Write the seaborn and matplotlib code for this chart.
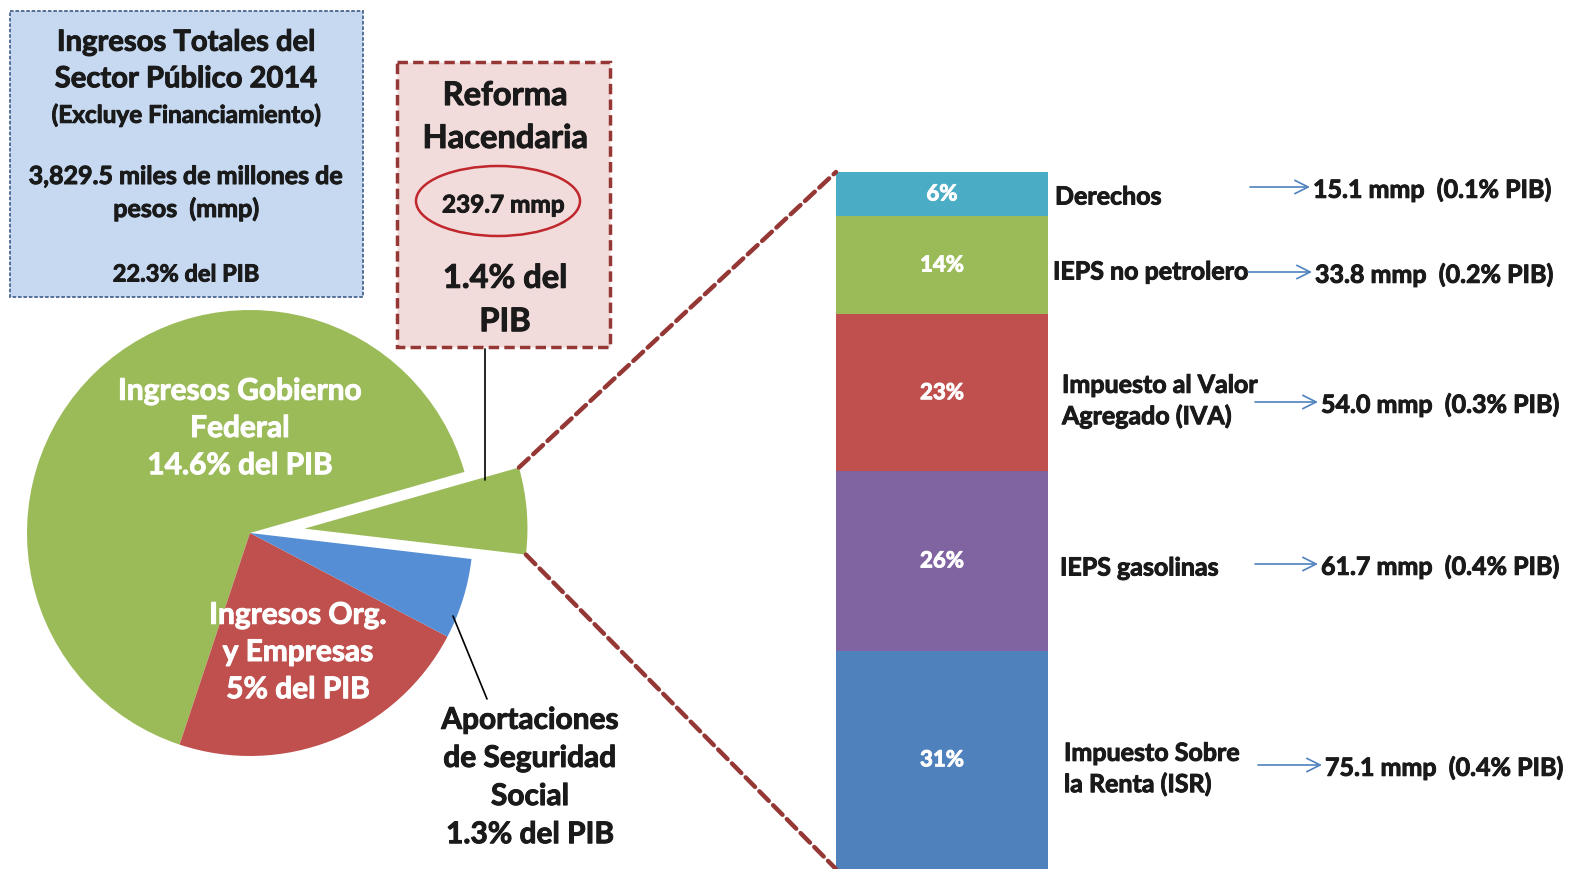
import matplotlib
matplotlib.use("Agg")
import matplotlib.pyplot as plt
import matplotlib.patheffects as pe
from matplotlib.patches import ConnectionPatch, Ellipse, Rectangle
import numpy as np
import seaborn as sns

sns.set_theme(style="white")
plt.rcParams["font.family"] = ["Lato", "DejaVu Sans"]
plt.rcParams["font.weight"] = "bold"

# --- data -------------------------------------------------------------
pie_names = ["Reforma Hacendaria", "Ingresos Gobierno Federal",
             "Ingresos Org. y Empresas", "Aportaciones de Seguridad Social"]
pie_pib = [1.4, 14.6, 5.0, 1.3]
pie_colors = ["#9bbb59", "#9bbb59", "#c0504d", "#558ed5"]

bar_names = ["Impuesto Sobre\nla Renta (ISR)", "IEPS gasolinas",
             "Impuesto al Valor\nAgregado (IVA)", "IEPS no petrolero", "Derechos"]
bar_mmp = [75.1, 61.7, 54.0, 33.8, 15.1]
bar_pib = [0.4, 0.4, 0.3, 0.2, 0.1]
bar_colors = ["#4f81bd", "#8064a2", "#c0504d", "#9bbb59", "#4bacc6"]

W, H = 1571, 870
TXT = "#1a1a1a"
DY = 3  # multi-line text sits a little low in the original
fig = plt.figure(figsize=(W / 100, H / 100), dpi=100)
fig.patch.set_facecolor("white")


def txt(ax, x, y, s, color=TXT, **kw):
    # slight stroke to get the heavy look of the original bold font
    t = ax.text(x, y, s, color=color, **kw)
    t.set_path_effects([pe.withStroke(linewidth=0.7, foreground=color)])
    return t


# overlay in pixel coordinates for boxes and text
ov = fig.add_axes([0, 0, 1, 1], zorder=3)
ov.set_xlim(0, W)
ov.set_ylim(H, 0)
ov.axis("off")
ov.patch.set_alpha(0)

# --- pie ----------------------------------------------------------------
cx, cy, r_px, half = 250, 534, 223, 300
pax = fig.add_axes([(cx - half) / W, (H - cy - half) / H, 2 * half / W, 2 * half / H], zorder=1)
start = -6.7
wedges, _ = pax.pie(pie_pib, colors=pie_colors, startangle=start, counterclock=True,
                    explode=[0.245, 0, 0, 0], wedgeprops=dict(linewidth=0))
lim = half / r_px
pax.set_xlim(-lim, lim)
pax.set_ylim(-lim, lim)
pax.set_aspect("equal")
pax.axis("off")

# --- stacked bar ----------------------------------------------------------
total = sum(bar_mmp)
bx0, bx1, by_top = 836, 1048, 173
bax = fig.add_axes([bx0 / W, 0, (bx1 - bx0) / W, (H - by_top) / H], zorder=1)
bottoms = np.concatenate([[0], np.cumsum(bar_mmp)[:-1]])
bax.bar([0] * len(bar_mmp), bar_mmp, bottom=bottoms, width=1, color=bar_colors, linewidth=0)
bax.set_xlim(-0.5, 0.5)
bax.set_ylim(0, total)
bax.axis("off")
for v, b in zip(bar_mmp, bottoms):
    txt(bax, 0, b + v / 2, f"{v / total * 100:.0f}%", color="white",
        ha="center", va="center", fontsize=16)

# dashed connectors from exploded wedge to bar
w0 = wedges[0]
wc = np.array(w0.center)
for theta, yb in [(w0.theta2, total), (w0.theta1, 0)]:
    p = wc + w0.r * np.array([np.cos(np.radians(theta)), np.sin(np.radians(theta))])
    con = ConnectionPatch(xyA=tuple(p), coordsA=pax.transData, xyB=(-0.5, yb), coordsB=bax.transData,
                          color="#953735", lw=3.2, linestyle=(0, (3, 1.4)), zorder=2)
    fig.add_artist(con)

# --- text boxes -----------------------------------------------------------
ov.add_patch(Rectangle((10, 12), 353, 286, facecolor="#c6d9f1", edgecolor="#4a6690",
                       lw=1.3, linestyle=(0, (2, 1))))
txt(ov, 186, 59 + DY, "Ingresos Totales del\nSector Público 2014", ha="center", va="center",
    fontsize=21, linespacing=1.5)
txt(ov, 186, 113 + DY, "(Excluye Financiamiento)", ha="center", va="center", fontsize=17.5)
txt(ov, 186, 191 + DY, "3,829.5 miles de millones de\npesos  (mmp)", ha="center", va="center",
    fontsize=18, linespacing=1.48)
txt(ov, 186, 272 + DY, "22.3% del PIB", ha="center", va="center", fontsize=17)

ov.add_patch(Rectangle((397, 63), 213, 285, facecolor="#f2dcdb", edgecolor="#953735",
                       lw=2.5, linestyle=(0, (3, 1.5))))
txt(ov, 505, 115 + DY, "Reforma\nHacendaria", ha="center", va="center", fontsize=23.5,
    linespacing=1.58)
ov.add_patch(Ellipse((498, 202), 164, 70, facecolor="none", edgecolor="#c0272d", lw=1.8))
txt(ov, 503, 205 + 1, "239.7 mmp", ha="center", va="center", fontsize=17.5)
txt(ov, 505, 297 + DY + 1, "1.4% del\nPIB", ha="center", va="center", fontsize=23.5, linespacing=1.6)
ov.plot([485, 485], [350, 481], color="black", lw=1.2)

# pie labels
txt(ov, 240, 426 + DY, "Ingresos Gobierno\nFederal\n14.6% del PIB", color="white",
    ha="center", va="center", fontsize=21.5, linespacing=1.4)
txt(ov, 298, 650 + DY, "Ingresos Org.\ny Empresas\n5% del PIB", color="white",
    ha="center", va="center", fontsize=21.5, linespacing=1.4)
txt(ov, 530, 775 + DY, "Aportaciones\nde Seguridad\nSocial\n1.3% del PIB",
    ha="center", va="center", fontsize=21.5, linespacing=1.44)
ov.plot([453, 487], [617, 700], color="black", lw=1.2)

# right-hand labels and arrows
label_pos = [(1064, 767), (1060, 566), (1062, 399), (1053, 270), (1055, 195)]
arrow_pos = [(1258, 1322, 766), (1255, 1318, 565), (1255, 1318, 403), (1248, 1312, 273), (1250, 1310, 188)]
for name, v, pib, (lx, ly), (a0, a1, ay) in zip(bar_names, bar_mmp, bar_pib, label_pos, arrow_pos):
    txt(ov, lx, ly + DY, name, ha="left", va="center", fontsize=18, linespacing=1.4)
    ov.annotate("", xy=(a1, ay), xytext=(a0, ay),
                arrowprops=dict(arrowstyle="->", color="#4f81bd", lw=1.2,
                                mutation_scale=24, shrinkA=0, shrinkB=0))
    txt(ov, a1 + 3, ay + DY, f"{v:.1f} mmp  ({pib:.1f}% PIB)", ha="left", va="center",
        fontsize=18)

fig.savefig("out.png", dpi=100)
